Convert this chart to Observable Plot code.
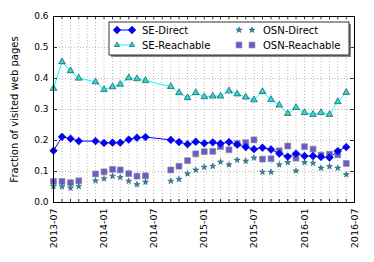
<!DOCTYPE html>
<html><head><meta charset="utf-8">
<script src="https://cdn.jsdelivr.net/npm/d3@7"></script>
<script src="https://cdn.jsdelivr.net/npm/@observablehq/plot@0.6"></script>
<style>body{margin:0;background:#fff}#chart{position:absolute;left:0;top:0}</style>
</head><body><div id="chart"></div>
<script>
const months = ["2013-07","2013-08","2013-09","2013-10","2013-12",
  "2014-01","2014-02","2014-03","2014-04","2014-05","2014-06","2014-09","2014-10","2014-11","2014-12",
  "2015-01","2015-02","2015-03","2015-04","2015-05","2015-06","2015-07","2015-08","2015-09","2015-10","2015-11","2015-12",
  "2016-01","2016-02","2016-03","2016-04","2016-05","2016-06"];
const seDirect = [0.167,0.212,0.206,0.198,0.198,
  0.192,0.193,0.193,0.203,0.209,0.211,0.202,0.195,0.188,0.196,
  0.191,0.194,0.190,0.195,0.187,0.179,0.172,0.177,0.171,0.158,0.148,0.158,
  0.150,0.150,0.147,0.145,0.166,0.179];
const seReachable = [0.368,0.454,0.425,0.401,0.389,
  0.364,0.373,0.381,0.402,0.399,0.393,0.374,0.354,0.338,0.354,
  0.341,0.343,0.343,0.360,0.350,0.340,0.331,0.358,0.332,0.314,0.287,0.306,
  0.290,0.284,0.290,0.284,0.325,0.355];
const osnDirect = [0.052,0.051,0.047,0.052,0.070,
  0.077,0.085,0.081,0.069,0.058,0.066,0.069,0.075,0.093,0.105,
  0.114,0.117,0.131,0.122,0.137,0.134,0.144,0.098,0.098,0.122,0.129,0.102,
  0.129,0.127,0.111,0.116,0.111,0.090];
const osnReachable = [0.068,0.068,0.064,0.070,0.092,
  0.099,0.107,0.105,0.093,0.085,0.086,0.105,0.117,0.135,0.157,
  0.164,0.165,0.180,0.170,0.190,0.193,0.202,0.140,0.141,0.167,0.182,0.143,
  0.180,0.172,0.153,0.156,0.154,0.126];
const seriesNames = ["SE-Direct","SE-Reachable","OSN-Direct","OSN-Reachable"];
const xTickLabels = ["2013-07","2014-01","2014-07","2015-01","2015-07","2016-01","2016-07"];
const yTicks = [0,0.1,0.2,0.3,0.4,0.5,0.6];
const yLabel = "Fraction of visited web pages";

const parse = d3.utcParse("%Y-%m");
const rows = months.map((m,i)=>({date:parse(m), seDirect:seDirect[i], seReachable:seReachable[i], osnDirect:osnDirect[i], osnReachable:osnReachable[i]}));
const xTicks = xTickLabels.map(parse);
const x0 = xTicks[0], x1 = xTicks[xTicks.length-1];
const allMonths = d3.utcMonth.range(x0, d3.utcMonth.offset(x1,1));

const W=374,H=262,ML=53,MR=20,MT=16,MB=60;
const FW=W-ML-MR, FH=H-MT-MB;
const sty = {
  seDirect:{symbol:"diamond2", r:3.5, fill:"#0000ff", stroke:"#0000b0", strokeWidth:0.5, line:"#0000ff"},
  seReachable:{symbol:"triangle", r:2.5, fill:"#30d4d4", stroke:"#0d3c3c", strokeWidth:0.6, line:"#00ffff"},
  osnDirect:{symbol:"star", r:1.9, fill:"#1f8db0", stroke:"#0b2f3a", strokeWidth:0.4},
  osnReachable:{symbol:"square", r:3.3, fill:"#6a5acd", stroke:"#8a8a9a", strokeWidth:0.7}
};
const dot = (k)=>Plot.dot(rows,{x:"date", y:k, symbol:sty[k].symbol, r:sty[k].r, fill:sty[k].fill, stroke:sty[k].stroke, strokeWidth:sty[k].strokeWidth});

const plot = Plot.plot({
  width:W, height:H, marginLeft:ML, marginRight:MR, marginTop:MT, marginBottom:MB,
  style:{fontFamily:"DejaVu Sans", fontSize:"9px", color:"#000", background:"#fff"},
  x:{type:"utc", domain:[x0,x1]},
  y:{domain:[0,0.6]},
  marks:[
    Plot.gridX(allMonths,{stroke:"#aaa", strokeOpacity:1, strokeDasharray:"1,2", strokeWidth:0.8}),
    Plot.gridY(yTicks,{stroke:"#aaa", strokeOpacity:1, strokeDasharray:"1,2", strokeWidth:0.8}),
    Plot.line(rows,{x:"date", y:"seReachable", stroke:sty.seReachable.line, strokeWidth:1}),
    Plot.line(rows,{x:"date", y:"seDirect", stroke:sty.seDirect.line, strokeWidth:1}),
    dot("osnReachable"), dot("osnDirect"), dot("seReachable"), dot("seDirect"),
    Plot.tickX(allMonths,{x:d=>d, insetTop:FH-3, stroke:"#000", strokeWidth:0.8}),
    Plot.tickX(allMonths,{x:d=>d, insetBottom:FH-3, stroke:"#000", strokeWidth:0.8}),
    Plot.tickY(yTicks,{y:d=>d, insetRight:FW-4, stroke:"#000", strokeWidth:0.8}),
    Plot.tickY(yTicks,{y:d=>d, insetLeft:FW-4, stroke:"#000", strokeWidth:0.8}),
    Plot.frame({stroke:"#000", strokeWidth:1}),
    Plot.axisY(yTicks,{tickSize:0, tickPadding:5, tickFormat:d3.format(".1f"), label:null, fontSize:9}),
    Plot.axisX(xTicks,{tickSize:0, tickRotate:-90, tickPadding:6, tickFormat:d3.utcFormat("%Y-%m"), label:null, fontSize:9.5}),
    Plot.text([yLabel],{text:d=>d, frameAnchor:"left", textAnchor:"middle", rotate:-90, dx:-39, fontSize:10})
  ]
});
document.getElementById("chart").appendChild(plot);

// legend
const svg = d3.select(plot);
const g = svg.append("g").attr("font-family","DejaVu Sans").attr("font-size",10).attr("text-anchor","start");
const LX=109, LY=22, LW=240, LH=33;
g.append("rect").attr("x",LX+2).attr("y",LY+2).attr("width",LW).attr("height",LH).attr("fill","#888");
g.append("rect").attr("x",LX).attr("y",LY).attr("width",LW).attr("height",LH).attr("fill","#fff").attr("stroke","#000").attr("stroke-width",0.8);
const symMap = {diamond2:d3.symbolDiamond2, triangle:d3.symbolTriangle2, star:d3.symbolStar, square:d3.symbolSquare};
const entries = [
  {k:"seDirect", name:seriesNames[0], mx:[117,132], tx:142, y:30, line:true},
  {k:"seReachable", name:seriesNames[1], mx:[117,132], tx:142, y:45, line:true},
  {k:"osnDirect", name:seriesNames[2], mx:[239,252], tx:263, y:30, line:false},
  {k:"osnReachable", name:seriesNames[3], mx:[239,252], tx:263, y:45, line:false}
];
for (const e of entries) {
  const s = sty[e.k];
  if (e.line) g.append("line").attr("x1",e.mx[0]).attr("x2",e.mx[1]).attr("y1",e.y).attr("y2",e.y).attr("stroke",s.line).attr("stroke-width",1);
  const path = d3.symbol().type(symMap[s.symbol]).size(Math.PI*s.r*s.r)();
  for (const mx of e.mx) g.append("path").attr("d",path).attr("transform",`translate(${mx},${e.y})`).attr("fill",s.fill).attr("stroke",s.stroke).attr("stroke-width",s.strokeWidth);
  g.append("text").attr("x",e.tx).attr("y",e.y).attr("dy","0.35em").attr("text-anchor","start").text(e.name);
}
</script></body></html>
